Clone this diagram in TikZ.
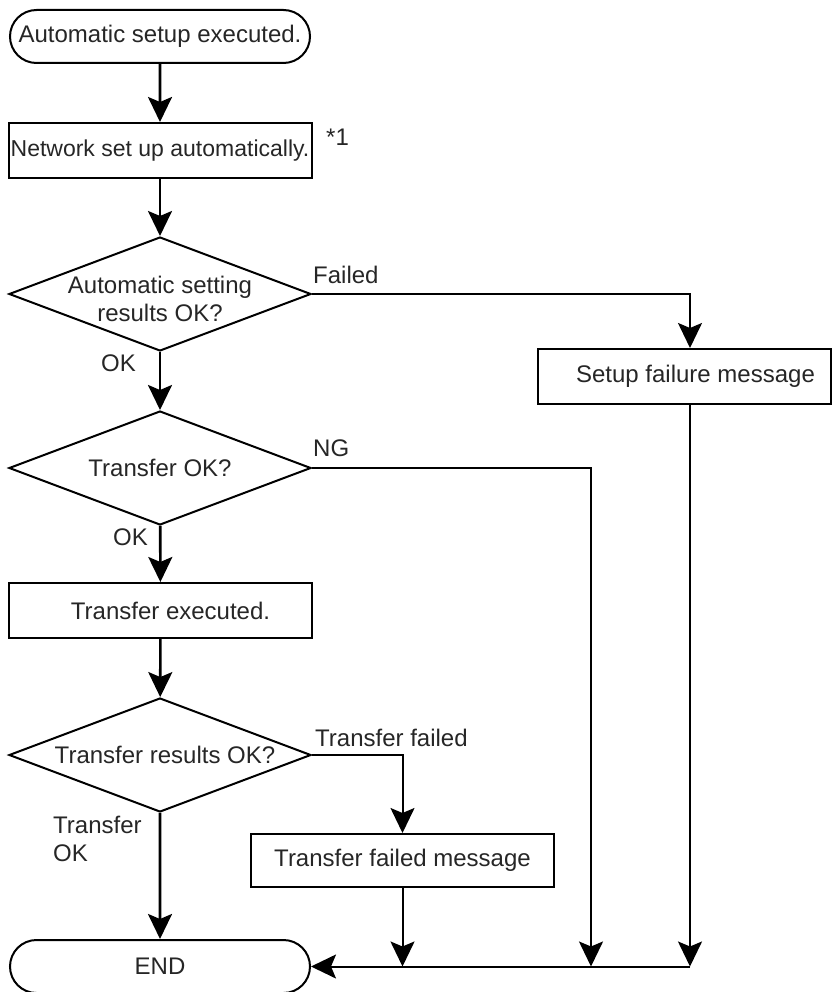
\documentclass[tikz,border=0pt]{standalone}
\usepackage{fontspec}
\setmainfont{Liberation Sans}
\usetikzlibrary{arrows.meta,shapes.geometric,shapes.misc}

\begin{document}
\begin{tikzpicture}[
  x=1pt,y=-1pt,
  font=\fontsize{24}{28}\selectfont,
  every node/.style={text=black!85},
  box/.style={draw=black,line width=2pt,minimum width=303pt,minimum height=55pt,inner sep=2pt,align=center},
  term/.style={draw=black,line width=2pt,rounded rectangle,minimum width=304pt,minimum height=53pt,inner sep=2pt},
  dia/.style={draw=black,line width=2pt,diamond,aspect=2.65,minimum width=302pt,minimum height=114pt,inner sep=0pt},
  lbl/.style={inner sep=0pt},
  arr/.style={-{Stealth[length=25pt,width=24pt,inset=5pt]},line width=2.6pt},
  arrs/.style={-{Stealth[length=25pt,width=24pt,inset=5pt]},line width=2pt}
]
\useasboundingbox (0,0) rectangle (833,992);

% main column
\node[term] (start) at (160,36.5) {Automatic setup executed.};
\node[box,font=\fontsize{23}{27}\selectfont] (net) at (160,150.5) {Network set up automatically.};
\node[lbl,anchor=west] (note) at (326,137) {*1};
\node[dia,label={[lbl,align=center,yshift=-5pt]center:Automatic setting\\results OK?}] (chk) at (160,294) {};
\node[dia,label={[lbl]center:Transfer OK?}] (xok) at (160,468) {};
\node[box] (xfer) at (160.5,610.5) {\hspace*{20pt}Transfer executed.};
\node[dia,label={[lbl,xshift=5pt]center:Transfer results OK?}] (xres) at (160,755) {};
\node[term] (stop) at (160,966.5) {END};

% side boxes
\node[box,minimum width=293pt] (fail) at (684.5,376.5) {\hspace*{22pt}Setup failure message};
\node[box,minimum height=53pt] (xmsg) at (402.5,860.5) {Transfer failed message};

% branch labels
\node[lbl,anchor=west] (lfail) at (313,275) {Failed};
\node[lbl,anchor=east] (lok1) at (136,363) {OK};
\node[lbl,anchor=west] (lng) at (313,448) {NG};
\node[lbl,anchor=east] (lok2) at (148,537) {OK};
\node[lbl,anchor=west] (lxf) at (315,738) {Transfer failed};
\node[lbl,anchor=west,align=left] (lxok) at (53,839) {Transfer\\OK};

% joins on the END line
\coordinate (j1) at (402.5,966.5);
\coordinate (j2) at (591,966.5);
\coordinate (j3) at (690,966.5);

\draw[arr] (start) -- (net);
\draw[arr] (net) -- (chk);
\draw[arr] (chk) -- (xok);
\draw[arr] (xok) -- (xfer);
\draw[arr] (xfer) -- (xres);
\draw[arr] (xres) -- (stop);
\draw[arrs] (chk.east) -| ([xshift=5.5pt]fail.north);
\draw[arrs] ([xshift=5.5pt]fail.south) -- (j3);
\draw[arrs] (xok.east) -| (j2);
\draw[arrs] (xres.east) -| (xmsg.north);
\draw[arrs] (xmsg) -- (j1);
\draw[arrs] (j3) -- (stop.east);
\end{tikzpicture}
\end{document}
